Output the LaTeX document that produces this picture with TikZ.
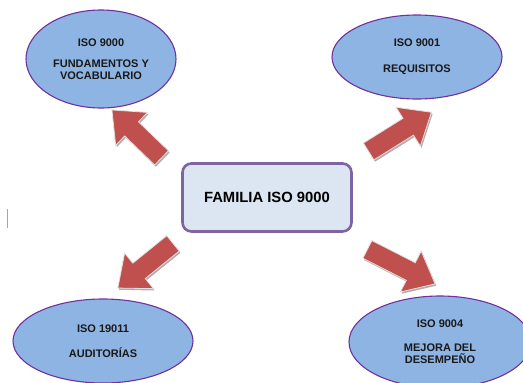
\documentclass[tikz,border=0pt]{standalone}
\usepackage{fontspec}
\setmainfont{Liberation Sans}
\usetikzlibrary{shapes.geometric,shapes.arrows,shadows}
\definecolor{ellfill}{HTML}{8EB4E3}
\definecolor{ellline}{HTML}{7030A0}
\definecolor{boxfill}{HTML}{DCE6F2}
\definecolor{boxline}{HTML}{8064A2}
\definecolor{arrfill}{HTML}{C0504D}
\definecolor{arrshadow}{HTML}{B3A2A2}
\begin{document}
\begin{tikzpicture}[x=1pt,y=1pt,
  topic/.style={ellipse, draw=ellline, line width=1.1pt, fill=ellfill,
    inner sep=0pt, font=\bfseries\fontsize{11}{12.2}\selectfont,
    text=black!90, align=center},
  family/.style={rounded corners=9pt, draw=boxline, line width=2.6pt,
    fill=boxfill, font=\bfseries\fontsize{14.8}{16}\selectfont,
    minimum width=169pt, minimum height=68pt, inner sep=0pt,
    append after command={
      \pgfextra{\draw[boxline!80, line width=0.6pt, rounded corners=6pt]
        ([shift={(3pt,3pt)}]\tikzlastnode.south west) rectangle
        ([shift={(-3pt,-3pt)}]\tikzlastnode.north east);}}},
  blockarrow/.style={single arrow, fill=arrfill, draw=black!12,
    line width=0.8pt, inner xsep=0pt, inner ysep=9.5pt,
    single arrow head extend=13pt, single arrow tip angle=80,
    drop shadow={shadow xshift=1.2pt, shadow yshift=-1.8pt,
      fill=arrshadow, opacity=0.9}},
]
\useasboundingbox (0,0) rectangle (523,-383);

% the four parts of the family
\node[topic, minimum width=150pt, minimum height=98pt] (iso9000) at (101,-59)
  {ISO 9000\\[9pt]FUNDAMENTOS Y\\VOCABULARIO};
\node[topic, minimum width=170pt, minimum height=84pt] (iso9001) at (417,-57)
  {ISO 9001\\[14pt]REQUISITOS};
\node[topic, minimum width=180pt, minimum height=84pt] (iso19011) at (103,-341)
  {ISO 19011\\[13pt]AUDITOR\'IAS};
\node[topic, minimum width=182pt, minimum height=92pt] (iso9004) at (440,-342)
  {ISO 9004\\[12pt]MEJORA DEL\\DESEMPE\~NO};

% central box
\node[family] (familia) at (267,-197.5) {FAMILIA ISO 9000};

% block arrows pointing outwards
\node[blockarrow, minimum height=69pt, rotate=136] (a9000) at (141,-138) {};
\node[blockarrow, minimum height=74pt, rotate=32] (a9001) at (395,-135) {};
\node[blockarrow, minimum height=71pt, rotate=219] (a19011) at (150,-262) {};
\node[blockarrow, minimum height=76pt, rotate=-27] (a9004) at (396,-264) {};

% small mark at the left edge
\draw[black!35, line width=0.9pt] (7.5,-209) -- (7.5,-228);
\end{tikzpicture}
\end{document}
